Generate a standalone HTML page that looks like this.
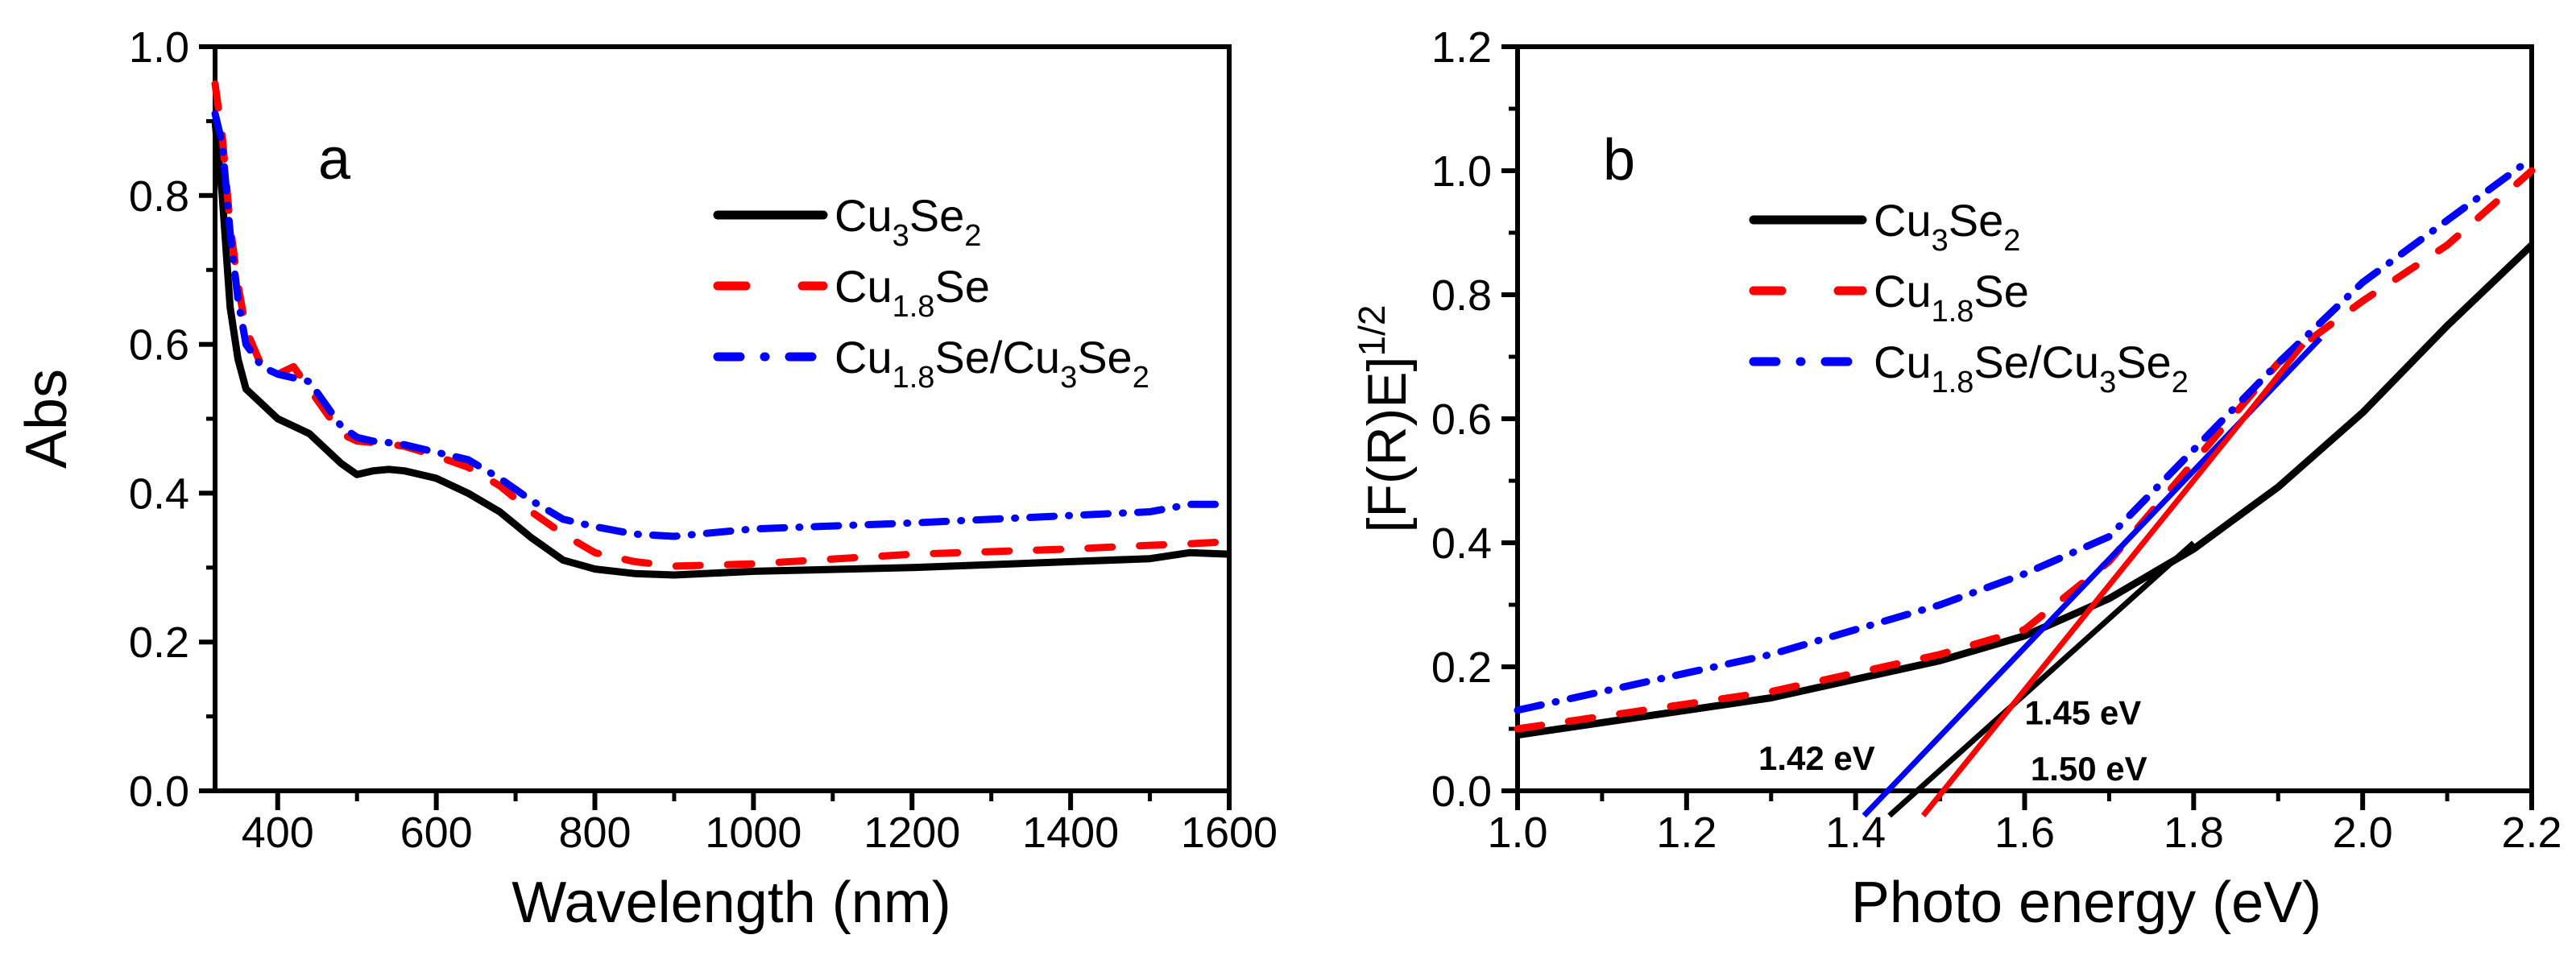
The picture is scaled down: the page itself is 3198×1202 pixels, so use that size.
<!DOCTYPE html>
<html><head><meta charset="utf-8"><style>
html,body{margin:0;padding:0;background:#fff;}
svg{display:block;font-family:"Liberation Sans",Arial,sans-serif;}
</style></head><body>
<svg id="fig" width="3198" height="1202" viewBox="0 0 3198 1202" xmlns="http://www.w3.org/2000/svg">
<rect width="3198" height="1202" fill="#fff"/>
<g id="pa"></g>
<g id="pb"></g>
</svg>
<script>
// Panel a data
const aWl = [321,330,340,350,360,380,400,420,440,460,480,500,520,540,560,600,640,680,720,760,800,850,900,1000,1200,1400,1500,1550,1600];
const aBlack = [0.90,0.80,0.65,0.58,0.54,0.52,0.50,0.49,0.48,0.46,0.44,0.425,0.43,0.432,0.43,0.42,0.40,0.375,0.34,0.31,0.298,0.292,0.29,0.295,0.30,0.308,0.312,0.32,0.318];
const aRed = [0.95,0.88,0.76,0.68,0.62,0.57,0.56,0.57,0.54,0.51,0.48,0.47,0.468,0.466,0.463,0.45,0.435,0.41,0.375,0.345,0.32,0.308,0.302,0.305,0.318,0.325,0.33,0.332,0.335];
const aBlue = [0.91,0.87,0.75,0.66,0.60,0.57,0.56,0.555,0.55,0.52,0.49,0.475,0.47,0.468,0.465,0.455,0.445,0.42,0.39,0.365,0.355,0.345,0.342,0.352,0.36,0.37,0.375,0.385,0.385];
const aXTicks = [400,600,800,1000,1200,1400,1600];
const aYTicks = [0.0,0.2,0.4,0.6,0.8,1.0];
// Panel b data
const bE = [1.0,1.1,1.2,1.3,1.4,1.5,1.6,1.7,1.8,1.9,2.0,2.1,2.2];
const bBlack = [0.09,0.11,0.13,0.15,0.18,0.21,0.25,0.31,0.39,0.49,0.61,0.75,0.88];
const bRed = [0.10,0.12,0.14,0.16,0.19,0.22,0.26,0.37,0.53,0.69,0.79,0.88,1.0];
const bBlue = [0.13,0.16,0.19,0.22,0.26,0.30,0.35,0.41,0.55,0.69,0.82,0.92,1.02];
const bTanBlue = [[1.41,-0.04],[1.95,0.73]];
const bTanBlack = [[1.44,-0.04],[1.80,0.40]];
const bTanRed = [[1.48,-0.04],[1.93,0.72]];
const bXTicks = [1.0,1.2,1.4,1.6,1.8,2.0,2.2];
const bYTicks = [0.0,0.2,0.4,0.6,0.8,1.0,1.2];
const bGapLabels = [["1.45 eV",1.60,0.107],["1.42 eV",1.285,0.034],["1.50 eV",1.607,0.017]];

const NS="http://www.w3.org/2000/svg";
function mk(parent,tag,attrs){const e=document.createElementNS(NS,tag);for(const k in attrs)e.setAttribute(k,attrs[k]);parent.appendChild(e);return e;}
const PT=58, PB=982;
const xa=w=>267+(w-321)*(1526-267)/(1600-321);
const ya=v=>PB-v*924;
const xb=e=>1884+(e-1)*1259/1.2;
const yb=v=>PB-v*770;

function line(g,xs,ys,fx,fy,color,dash,name){
  let d="";xs.forEach((x,i)=>{d+=(i?"L":"M")+fx(x).toFixed(1)+","+fy(ys[i]).toFixed(1);});
  const p=mk(g,"path",{d:d,fill:"none",stroke:color,"stroke-width":9,"stroke-linejoin":"round","stroke-linecap":dash?"round":"butt"});
  if(dash)p.setAttribute("stroke-dasharray",dash);
  
  
}
const DASH="30 34", DOT="30 18 1 18";

function frame(g,x0,x1,xt,fx,minorX,yt,fy,fmtY,fmtX){
  const r=mk(g,"rect",{x:x0,y:PT,width:x1-x0,height:PB-PT,fill:"none",stroke:"#000","stroke-width":6});
  
  
  xt.forEach(v=>{const X=fx(v);mk(g,"line",{x1:X,y1:PB,x2:X,y2:PB+24,stroke:"#000","stroke-width":6});
    const t=mk(g,"text",{x:X,y:1052,"font-size":54,"text-anchor":"middle"});t.textContent=fmtX(v);
    
    });
  minorX.forEach(v=>{const X=fx(v);mk(g,"line",{x1:X,y1:PB,x2:X,y2:PB+13,stroke:"#000","stroke-width":5});});
  yt.forEach((v,i)=>{const Y=fy(v);mk(g,"line",{x1:x0-20,y1:Y,x2:x0,y2:Y,stroke:"#000","stroke-width":6});
    if(i<yt.length-1){const m=fy(v+(yt[1]-yt[0])/2);mk(g,"line",{x1:x0-11,y1:m,x2:x0,y2:m,stroke:"#000","stroke-width":5});}
    const t=mk(g,"text",{x:x0-32,y:Y+19,"font-size":54,"text-anchor":"end"});t.textContent=fmtY(v);
    
    });
}
function legend(g,x,y0,dx){
  const items=[["#000",null,'Cu<tspan font-size="38" dy="18">3</tspan><tspan dy="-18">Se</tspan><tspan font-size="38" dy="18">2</tspan>',"legend-cu3se2"],
   ["#f00","35 70",'Cu<tspan font-size="38" dy="18">1.8</tspan><tspan dy="-18">Se</tspan>',"legend-cu18se"],
   ["#00f","28 30 1 30",'Cu<tspan font-size="38" dy="18">1.8</tspan><tspan dy="-18">Se/Cu</tspan><tspan font-size="38" dy="18">3</tspan><tspan dy="-18">Se</tspan><tspan font-size="38" dy="18">2</tspan>',"legend-cu18se-cu3se2"]];
  items.forEach((it,i)=>{const y=y0+i*88;
    const lg=mk(g,"g",{});
    const l=mk(lg,"line",{x1:x,y1:y,x2:x+dx,y2:y,stroke:it[0],"stroke-width":11,"stroke-linecap":"round"});
    if(it[1])l.setAttribute("stroke-dasharray",it[1]);
    const t=mk(lg,"text",{x:x+dx+14,y:y+20,"font-size":56});t.innerHTML=it[2];});
}
// Panel a
const pa=document.getElementById("pa");
frame(pa,267,1526,aXTicks,xa,[500,700,900,1100,1300,1500],aYTicks,ya,v=>v.toFixed(1),v=>String(v));
line(pa,aWl,aBlack,xa,ya,"#000",null,"curve-cu3se2");
line(pa,aWl,aRed,xa,ya,"#f00",DASH,"curve-cu18se");
line(pa,aWl,aBlue,xa,ya,"#00f",DOT,"curve-cu18se-cu3se2");
legend(pa,891,267,131);
let t=mk(pa,"text",{x:395,y:222,"font-size":72});t.textContent="a";

t=mk(pa,"text",{x:908,y:1145,"font-size":72,"text-anchor":"middle"});t.textContent="Wavelength (nm)";

t=mk(pa,"text",{x:0,y:0,"font-size":72,"text-anchor":"middle",transform:"translate(82,520) rotate(-90)"});t.textContent="Abs";

// Panel b
const pb=document.getElementById("pb");
frame(pb,1884,3143,bXTicks,xb,[1.1,1.3,1.5,1.7,1.9,2.1],bYTicks,yb,v=>v.toFixed(1),v=>v.toFixed(1));
line(pb,bE,bBlack,xb,yb,"#000",null,"curve-cu3se2-b");
line(pb,bE,bRed,xb,yb,"#f00",DASH,"curve-cu18se-b");
line(pb,bE,bBlue,xb,yb,"#00f",DOT,"curve-cu18se-cu3se2-b");
[[bTanBlue,"#00f","tangent-blue"],[bTanBlack,"#000","tangent-black"],[bTanRed,"#f00","tangent-red"]].forEach(s=>{
  const l=mk(pb,"line",{x1:xb(s[0][0][0]),y1:yb(s[0][0][1]),x2:xb(s[0][1][0]),y2:yb(s[0][1][1]),stroke:s[1],"stroke-width":7});
  });
bGapLabels.forEach(g=>{const tt=mk(pb,"text",{x:xb(g[1]),y:yb(g[2]),"font-size":42,"font-weight":"bold"});tt.textContent=g[0];
  });
legend(pb,2177,273,135);
t=mk(pb,"text",{x:1990,y:223,"font-size":72});t.textContent="b";

t=mk(pb,"text",{x:2590,y:1145,"font-size":72,"text-anchor":"middle"});t.textContent="Photo energy (eV)";

t=mk(pb,"text",{x:0,y:0,"font-size":68,"text-anchor":"middle",transform:"translate(1745,520) rotate(-90)"});
t.innerHTML='[F(R)E]<tspan font-size="46" dy="-26">1/2</tspan>';

</script>
</body></html>
